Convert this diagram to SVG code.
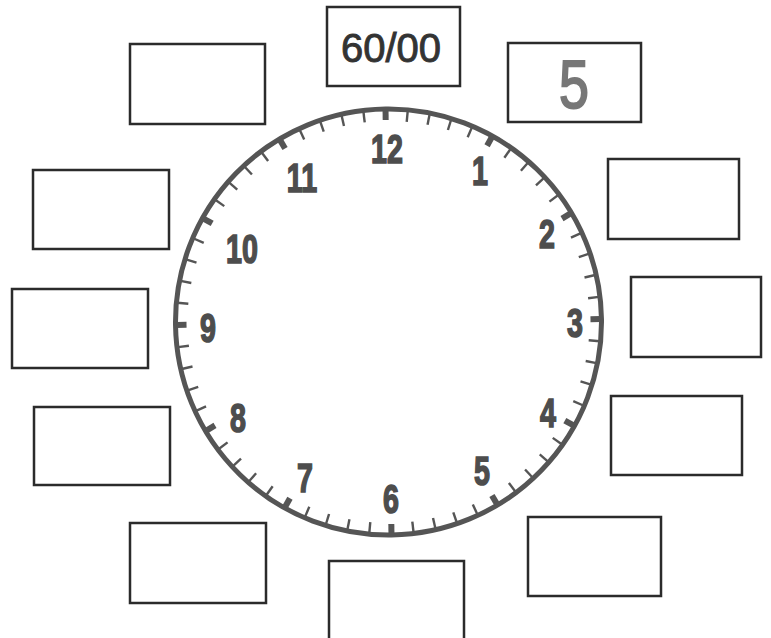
<svg xmlns="http://www.w3.org/2000/svg" xmlns:xlink="http://www.w3.org/1999/xlink" width="771" height="638" viewBox="0 0 771 638">
<style>
.box{fill:#fff;stroke:#2b2b2b;stroke-width:2.5}
.num{font-family:"Liberation Sans","DejaVu Sans",sans-serif;font-weight:bold;font-size:41px;fill:#4d4d4d;stroke:#4d4d4d;stroke-width:1.6;text-anchor:middle}
.mt{stroke:#555;stroke-width:2.4}
.ht{stroke:#555;stroke-width:6}
</style>
<defs>
<line id="m" class="mt" x1="0" y1="-212" x2="0" y2="-201"/>
<line id="h" class="ht" x1="0" y1="-212" x2="0" y2="-202"/>
</defs>
<rect width="771" height="638" fill="#fff"/>
<g id="box-top-left"><rect class="box" x="130" y="44" width="135" height="80"/></g>
<g id="box-top-center"><rect class="box" x="327" y="7" width="133" height="79"/>
<text x="391" y="62" font-family="Liberation Sans, DejaVu Sans, sans-serif" font-size="40" fill="#333" stroke="#333" stroke-width="0.9" text-anchor="middle">60/00</text></g>
<g id="box-top-right"><rect class="box" x="508" y="43" width="133" height="79"/>
<text transform="translate(574,108) scale(0.78,1)" font-family="Liberation Sans, DejaVu Sans, sans-serif" font-size="69" fill="#777" stroke="#777" stroke-width="2" text-anchor="middle">5</text></g>
<g id="box-right-1"><rect class="box" x="608" y="159" width="131" height="80"/></g>
<g id="box-right-2"><rect class="box" x="631" y="277" width="130" height="80"/></g>
<g id="box-right-3"><rect class="box" x="611" y="396" width="131" height="79"/></g>
<g id="box-bottom-right"><rect class="box" x="528" y="517" width="133" height="79"/></g>
<g id="box-bottom-center"><rect class="box" x="329" y="561" width="135" height="82"/></g>
<g id="box-bottom-left"><rect class="box" x="130" y="523" width="136" height="80"/></g>
<g id="box-left-3"><rect class="box" x="34" y="407" width="136" height="78"/></g>
<g id="box-left-2"><rect class="box" x="12" y="289" width="136" height="79"/></g>
<g id="box-left-1"><rect class="box" x="33" y="170" width="136" height="79"/></g>
<g id="clock">
<g transform="translate(388.5,322) rotate(-0.8)">
<circle r="213" fill="none" stroke="#555" stroke-width="5"/>
<use xlink:href="#h" transform="rotate(0)"/><use xlink:href="#m" transform="rotate(6)"/><use xlink:href="#m" transform="rotate(12)"/><use xlink:href="#m" transform="rotate(18)"/><use xlink:href="#m" transform="rotate(24)"/>
<use xlink:href="#h" transform="rotate(30)"/><use xlink:href="#m" transform="rotate(36)"/><use xlink:href="#m" transform="rotate(42)"/><use xlink:href="#m" transform="rotate(48)"/><use xlink:href="#m" transform="rotate(54)"/>
<use xlink:href="#h" transform="rotate(60)"/><use xlink:href="#m" transform="rotate(66)"/><use xlink:href="#m" transform="rotate(72)"/><use xlink:href="#m" transform="rotate(78)"/><use xlink:href="#m" transform="rotate(84)"/>
<use xlink:href="#h" transform="rotate(90)"/><use xlink:href="#m" transform="rotate(96)"/><use xlink:href="#m" transform="rotate(102)"/><use xlink:href="#m" transform="rotate(108)"/><use xlink:href="#m" transform="rotate(114)"/>
<use xlink:href="#h" transform="rotate(120)"/><use xlink:href="#m" transform="rotate(126)"/><use xlink:href="#m" transform="rotate(132)"/><use xlink:href="#m" transform="rotate(138)"/><use xlink:href="#m" transform="rotate(144)"/>
<use xlink:href="#h" transform="rotate(150)"/><use xlink:href="#m" transform="rotate(156)"/><use xlink:href="#m" transform="rotate(162)"/><use xlink:href="#m" transform="rotate(168)"/><use xlink:href="#m" transform="rotate(174)"/>
<use xlink:href="#h" transform="rotate(180)"/><use xlink:href="#m" transform="rotate(186)"/><use xlink:href="#m" transform="rotate(192)"/><use xlink:href="#m" transform="rotate(198)"/><use xlink:href="#m" transform="rotate(204)"/>
<use xlink:href="#h" transform="rotate(210)"/><use xlink:href="#m" transform="rotate(216)"/><use xlink:href="#m" transform="rotate(222)"/><use xlink:href="#m" transform="rotate(228)"/><use xlink:href="#m" transform="rotate(234)"/>
<use xlink:href="#h" transform="rotate(240)"/><use xlink:href="#m" transform="rotate(246)"/><use xlink:href="#m" transform="rotate(252)"/><use xlink:href="#m" transform="rotate(258)"/><use xlink:href="#m" transform="rotate(264)"/>
<use xlink:href="#h" transform="rotate(270)"/><use xlink:href="#m" transform="rotate(276)"/><use xlink:href="#m" transform="rotate(282)"/><use xlink:href="#m" transform="rotate(288)"/><use xlink:href="#m" transform="rotate(294)"/>
<use xlink:href="#h" transform="rotate(300)"/><use xlink:href="#m" transform="rotate(306)"/><use xlink:href="#m" transform="rotate(312)"/><use xlink:href="#m" transform="rotate(318)"/><use xlink:href="#m" transform="rotate(324)"/>
<use xlink:href="#h" transform="rotate(330)"/><use xlink:href="#m" transform="rotate(336)"/><use xlink:href="#m" transform="rotate(342)"/><use xlink:href="#m" transform="rotate(348)"/><use xlink:href="#m" transform="rotate(354)"/>
</g>
<text class="num" transform="translate(387,163) scale(0.7,1)">12</text>
<text class="num" transform="translate(480,185) scale(0.7,1)">1</text>
<text class="num" transform="translate(547,248) scale(0.7,1)">2</text>
<text class="num" transform="translate(575,337) scale(0.7,1)">3</text>
<text class="num" transform="translate(548,427) scale(0.7,1)">4</text>
<text class="num" transform="translate(482,485) scale(0.7,1)">5</text>
<text class="num" transform="translate(391,513) scale(0.7,1)">6</text>
<text class="num" transform="translate(305,492) scale(0.7,1)">7</text>
<text class="num" transform="translate(238,432) scale(0.7,1)">8</text>
<text class="num" transform="translate(208,342) scale(0.7,1)">9</text>
<text class="num" transform="translate(242,263) scale(0.7,1)">10</text>
<text class="num" transform="translate(302,192) scale(0.7,1)">11</text>
</g>
</svg>
